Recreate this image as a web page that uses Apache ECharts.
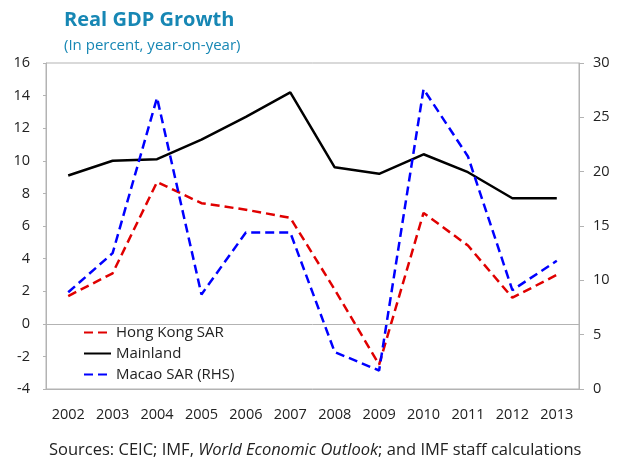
<!DOCTYPE html>
<html>
<head>
<meta charset="utf-8">
<script src="https://cdn.jsdelivr.net/npm/echarts@6/dist/echarts.min.js"></script>
<style>
  html, body { margin: 0; padding: 0; background: #fff; }
  #main { width: 620px; height: 460px; }
</style>
</head>
<body>
<div id="main"></div>
<script>
// years on the x axis
const years = ['2002', '2003', '2004', '2005', '2006', '2007', '2008', '2009', '2010', '2011', '2012', '2013']
// left axis, percent
const hongKong = [1.7, 3.1, 8.7, 7.4, 7.0, 6.5, 2.1, -2.5, 6.8, 4.8, 1.6, 3.0]
const mainland = [9.1, 10.0, 10.1, 11.3, 12.7, 14.2, 9.6, 9.2, 10.4, 9.3, 7.7, 7.7]
// right axis, percent
const macao = [8.9, 12.5, 26.8, 8.7, 14.4, 14.4, 3.4, 1.7, 27.6, 21.4, 9.1, 11.8]

const font = '"Open Sans", "Noto Sans", sans-serif'
const gray = '#b3b3b3'

let myChart = echarts.init(document.getElementById('main'))
myChart.setOption({
  animation: false,
  textStyle: { fontFamily: font },
  title: [
    {
      text: 'Real GDP Growth',
      left: 59,
      top: 5,
      textStyle: { color: '#1787b4', fontSize: 20, fontWeight: 'bold', fontFamily: font }
    },
    {
      text: '(In percent, year-on-year)',
      left: 59,
      top: 33,
      textStyle: { color: '#1787b4', fontSize: 15, fontWeight: 'normal', fontFamily: font }
    },
    {
      text: '{n|Sources: CEIC; IMF, }{i|World Economic Outlook}{n|; and IMF staff calculations}',
      left: 44,
      top: 437,
      textStyle: {
        fontWeight: 'normal',
        rich: {
          n: { fontSize: 16.5, color: '#222', fontWeight: 'normal', fontFamily: font },
          i: { fontSize: 16.5, color: '#222', fontWeight: 'normal', fontStyle: 'italic', fontFamily: font }
        }
      }
    }
  ],
  legend: {
    orient: 'vertical',
    left: 78,
    top: 320,
    itemWidth: 27,
    itemHeight: 12,
    itemGap: 6,
    itemStyle: { opacity: 0 },
    textStyle: { fontSize: 15, color: '#222', fontFamily: font },
    data: ['Hong Kong SAR', 'Mainland', 'Macao SAR (RHS)']
  },
  grid: {
    left: 46,
    right: 41,
    top: 63,
    bottom: 71,
    show: true,
    borderColor: gray,
    borderWidth: 1
  },
  xAxis: {
    type: 'category',
    data: years,
    boundaryGap: true,
    axisLine: { onZero: false, lineStyle: { color: gray } },
    axisTick: { show: false },
    axisLabel: { color: '#222', fontSize: 14.5, margin: 18 }
  },
  yAxis: [
    {
      type: 'value',
      min: -4,
      max: 16,
      interval: 2,
      axisLine: { show: true, lineStyle: { color: gray } },
      axisTick: { show: true, length: 3, lineStyle: { color: gray } },
      axisLabel: { color: '#222', fontSize: 14.5, margin: 16 },
      splitLine: { show: false }
    },
    {
      type: 'value',
      min: 0,
      max: 30,
      interval: 5,
      position: 'right',
      axisLine: { show: true, lineStyle: { color: gray } },
      axisTick: { show: true, length: 5, lineStyle: { color: gray } },
      axisLabel: { color: '#222', fontSize: 14.5, margin: 14 },
      splitLine: { show: false }
    }
  ],
  series: [
    {
      name: 'Hong Kong SAR',
      type: 'line',
      yAxisIndex: 0,
      data: hongKong,
      symbol: 'none',
      color: '#e00000',
      lineStyle: { width: 2.5, type: [9, 5], color: '#e00000' },
      markLine: {
        silent: true,
        symbol: 'none',
        label: { show: false },
        lineStyle: { color: gray, type: 'solid', width: 1 },
        data: [{ yAxis: 0 }]
      },
      z: 3
    },
    {
      name: 'Mainland',
      type: 'line',
      yAxisIndex: 0,
      data: mainland,
      symbol: 'none',
      color: '#000',
      lineStyle: { width: 2.5, color: '#000' },
      z: 2
    },
    {
      name: 'Macao SAR (RHS)',
      type: 'line',
      yAxisIndex: 1,
      data: macao,
      symbol: 'none',
      color: '#0000ff',
      lineStyle: { width: 2.5, type: [9, 5], color: '#0000ff' },
      z: 4
    }
  ]
})
</script>
</body>
</html>
